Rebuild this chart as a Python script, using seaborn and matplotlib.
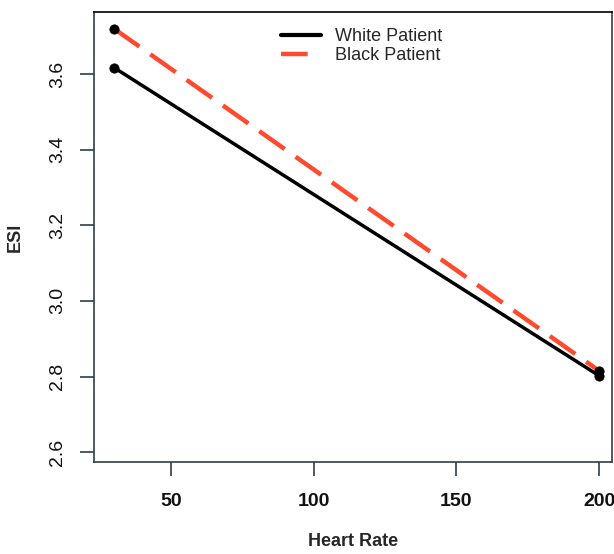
import pandas as pd
import matplotlib.pyplot as plt
import seaborn as sns

# Data
heart_rate = [30, 200]
esi_white = [3.617, 2.802]
esi_black = [3.720, 2.815]
groups = ["White Patient", "Black Patient"]
colors = {"White Patient": "black", "Black Patient": "#ff4a2e"}

df = pd.DataFrame({
    "Heart Rate": heart_rate * 2,
    "ESI": esi_white + esi_black,
    "group": [groups[0]] * 2 + [groups[1]] * 2,
})

sns.set_style("white")
plt.rcParams['font.family'] = ['Liberation Sans', 'DejaVu Sans']

fig = plt.figure(figsize=(6.14, 5.54), dpi=100)
ax = fig.add_axes([94 / 614, 92 / 554, 518 / 614, 450 / 554])

sns.lineplot(data=df, x="Heart Rate", y="ESI", hue="group", style="group",
             hue_order=groups, style_order=groups, palette=colors,
             dashes={"White Patient": "", "Black Patient": (7, 3)},
             ax=ax, zorder=2)
for line, lw in zip(ax.get_lines()[:2], [2.5, 3.2]):
    line.set_linewidth(lw)
sns.scatterplot(data=df, x="Heart Rate", y="ESI", color="black", s=45,
                edgecolor="black", ax=ax, legend=False, zorder=3)

ax.set_xlim(23.0, 204.5)
ax.set_ylim(2.574, 3.764)
ax.set_xticks([50, 100, 150, 200])
ax.set_yticks([2.6, 2.8, 3.0, 3.2, 3.4, 3.6])
ax.set_yticklabels(["2.6", "2.8", "3.0", "3.2", "3.4", "3.6"], rotation=90, va="center")

spine_col = "#2e3f48"
for s in ax.spines.values():
    s.set_color(spine_col)
    s.set_linewidth(1.2)
ax.spines["top"].set_color("black")
ax.tick_params(axis="both", direction="out", length=10, width=1.2, color=spine_col,
               labelsize=14, labelcolor="#111111", bottom=True, left=True)
ax.tick_params(axis="x", pad=12)
ax.tick_params(axis="y", pad=10)
for t in ax.get_xticklabels():
    t.set_fontweight("bold")

ax.set_xlabel("Heart Rate", fontsize=13, fontweight="bold", labelpad=17)
ax.set_ylabel("ESI", fontsize=13, fontweight="bold", labelpad=18)

handles, labels = ax.get_legend_handles_labels()
leg = ax.legend(handles, labels, loc="upper left", bbox_to_anchor=(0.33, 1.0),
                frameon=False, fontsize=13, handlelength=2.2, labelspacing=0.1,
                handletextpad=0.8)
for h, lw in zip(leg.get_lines(), [3.0, 3.2]):
    h.set_linewidth(lw)
leg.get_lines()[1].set_dashes((6, 3))

fig.savefig("out.png", dpi=100)
